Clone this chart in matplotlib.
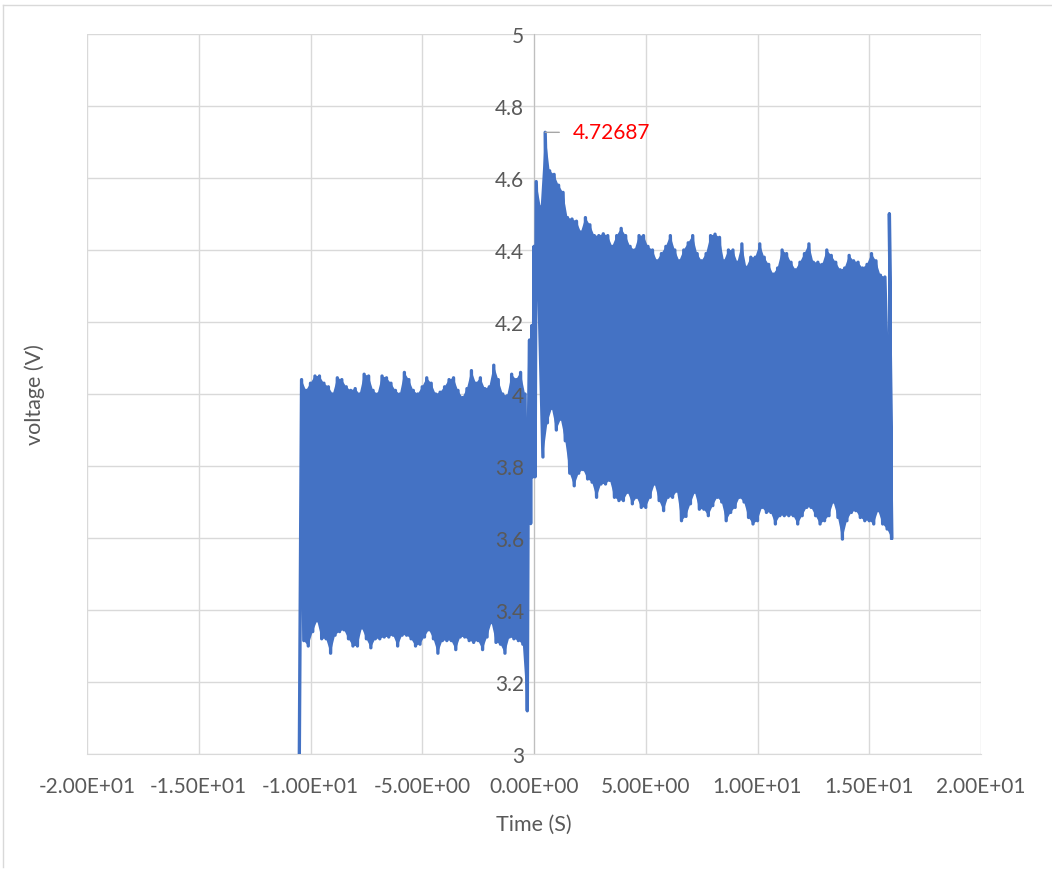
import numpy as np
import matplotlib.pyplot as plt
from matplotlib.lines import Line2D

# valores (picos altos / bajos cada 0.2 s)
hi_izq = [4.04, 4.01, 4.03, 4.05, 4.05, 4.03, 4.02, 4.00, 4.045, 4.04,
          4.02, 4.01, 4.015, 4.00, 4.055, 4.05, 4.01, 4.00, 4.05, 4.045,
          4.03, 4.01, 4.00, 4.06, 4.04, 4.01, 4.00, 4.02, 4.045, 4.03,
          4.00, 4.005, 4.02, 4.04, 4.045, 4.01, 3.99, 4.015, 4.065, 4.03,
          4.045, 4.015, 4.02, 4.08, 4.04, 4.00, 3.995, 4.055, 4.04, 4.06,
          4.00]
lo_izq = [3.315, 3.30, 3.34, 3.37, 3.32, 3.32, 3.28, 3.33, 3.34, 3.345,
          3.32, 3.30, 3.30, 3.35, 3.32, 3.295, 3.32, 3.32, 3.325, 3.325,
          3.33, 3.30, 3.33, 3.33, 3.32, 3.30, 3.305, 3.325, 3.345, 3.32,
          3.28, 3.315, 3.315, 3.315, 3.29, 3.325, 3.325, 3.315, 3.31, 3.315,
          3.29, 3.325, 3.365, 3.31, 3.305, 3.28, 3.325, 3.32, 3.315, 3.305,
          3.12]

hi_der = [4.59, 4.52, 4.72687, 4.62, 4.61, 4.58, 4.56, 4.49, 4.486, 4.48,
          4.45, 4.49, 4.47, 4.44, 4.44, 4.445, 4.44, 4.41, 4.44, 4.46,
          4.44, 4.41, 4.40, 4.44, 4.44, 4.41, 4.40, 4.37, 4.39, 4.41,
          4.44, 4.40, 4.37, 4.40, 4.42, 4.44, 4.39, 4.37, 4.39, 4.44,
          4.444, 4.435, 4.37, 4.40, 4.40, 4.366, 4.417, 4.352, 4.38, 4.38,
          4.417, 4.38, 4.36, 4.333, 4.35, 4.40, 4.39, 4.366, 4.345, 4.366,
          4.39, 4.417, 4.366, 4.366, 4.36, 4.40, 4.385, 4.366, 4.345, 4.35,
          4.385, 4.37, 4.366, 4.35, 4.36, 4.39, 4.37, 4.33, 4.325]
lo_der = [3.825, 3.92, 3.96, 3.90, 3.93, 3.87,
          3.78, 3.745, 3.78, 3.79, 3.764, 3.755, 3.713, 3.75, 3.75, 3.76,
          3.713, 3.704, 3.704, 3.727, 3.695, 3.713, 3.685, 3.685, 3.713, 3.75,
          3.704, 3.676, 3.713, 3.713, 3.73, 3.648, 3.66, 3.695, 3.727, 3.68,
          3.68, 3.662, 3.69, 3.713,
          3.70, 3.648, 3.671, 3.685, 3.713, 3.70, 3.657, 3.639, 3.648, 3.685,
          3.671, 3.671, 3.639, 3.662, 3.662, 3.662, 3.662, 3.639, 3.662, 3.685,
          3.685, 3.662, 3.639, 3.648, 3.662, 3.70, 3.657, 3.597, 3.648, 3.671,
          3.676, 3.657, 3.648, 3.648, 3.639, 3.676, 3.639, 3.625, 3.60]

# inicio, transicion en t=0 y final
t_ini, v_ini = [-10.5], [3.0]
t_tr = [-0.25, -0.2, -0.15, -0.1, -0.05, 0.0, 0.05]
v_tr = [3.9, 4.15, 3.64, 4.19, 3.77, 4.41, 3.77]
t_fin = [15.9, 16.0]
v_fin = [4.5, 3.6]

x_ticks = [-20, -15, -10, -5, 0, 5, 10, 15, 20]
y_ticks = [3, 3.2, 3.4, 3.6, 3.8, 4, 4.2, 4.4, 4.6, 4.8, 5]
pico = 4.72687


def intercalar(a, b):
    r = np.empty(len(a) + len(b))
    r[0::2] = a
    r[1::2] = b
    return r


# tiempos de muestreo (rejilla de 0.2 s)
th_izq = -10.4 + 0.2 * np.arange(len(hi_izq))
tl_izq = -10.3 + 0.2 * np.arange(len(lo_izq))
th_der = 0.1 + 0.2 * np.arange(len(hi_der))
tl_der = 0.2 + 0.2 * np.arange(1, len(lo_der) + 1)

t_izq = intercalar(th_izq, tl_izq)
v_izq = intercalar(hi_izq, lo_izq)
t_der = intercalar(th_der, tl_der)
v_der = intercalar(hi_der, lo_der)

t = np.concatenate([t_ini, t_izq, t_tr, t_der, t_fin])
v = np.concatenate([v_ini, v_izq, v_tr, v_der, v_fin])

plt.rcParams['font.family'] = ['Lato', 'DejaVu Sans']
gris = '#595959'
azul = '#4472C4'

fig = plt.figure(figsize=(10.52, 8.70), dpi=100)
ax = fig.add_axes([87 / 1052, 1 - 755 / 870, 894 / 1052, 720 / 870])

for xt in x_ticks:
    ax.axvline(xt, color='#D9D9D9', lw=1, zorder=0.5)
for yt in y_ticks:
    ax.axhline(yt, color='#D9D9D9', lw=1, zorder=0.5)

# la oscilacion es tan densa que se ve como una banda rellena
ax.fill(np.concatenate([th_izq, tl_izq[::-1]]), np.concatenate([hi_izq, lo_izq[::-1]]),
        color=azul, lw=0, zorder=3)
ax.fill(np.concatenate([th_der, tl_der[::-1]]), np.concatenate([hi_der, lo_der[::-1]]),
        color=azul, lw=0, zorder=3)
ax.plot(t, v, color=azul, lw=2.4, solid_joinstyle='round', zorder=3)

ax.set_xlim(-20, 20)
ax.set_ylim(3, 5)
ax.set_xticks(x_ticks)
ax.set_yticks(y_ticks)
ax.set_xticklabels(['%.2E' % xt for xt in x_ticks])
ax.set_yticklabels(['%g' % yt for yt in y_ticks])
ax.tick_params(length=0, labelsize=15, labelcolor=gris)
ax.tick_params(axis='x', pad=16)
ax.tick_params(axis='y', pad=7)
ax.yaxis.set_zorder(4)

ax.spines['top'].set_visible(False)
ax.spines['right'].set_visible(False)
ax.spines['left'].set_position(('data', 0))
ax.spines['left'].set_color('#BFBFBF')
ax.spines['left'].set_zorder(1)
ax.spines['bottom'].set_color('#D9D9D9')

ax.annotate('4.72687', xy=(0.5, pico), xytext=(28, 0), textcoords='offset pixels',
            color='red', fontsize=15, va='center', ha='left',
            arrowprops=dict(arrowstyle='-', color='#A6A6A6', lw=1, shrinkA=8, shrinkB=0))

fig.text(534 / 1052, 1 - 825 / 870, 'Time (S)', ha='center', va='center', fontsize=15.5, color=gris)
fig.text(35 / 1052, 1 - 395 / 870, 'voltage (V)', ha='center', va='center', rotation=90,
         fontsize=15.5, color=gris)

# borde del area del grafico
fig.add_artist(Line2D([3 / 1052, 1], [1 - 6 / 870, 1 - 6 / 870], color='#D9D9D9', lw=1))
fig.add_artist(Line2D([3 / 1052, 3 / 1052], [1 - 6 / 870, 1 - 868 / 870], color='#D9D9D9', lw=1))

plt.savefig('out.png', dpi=100)
